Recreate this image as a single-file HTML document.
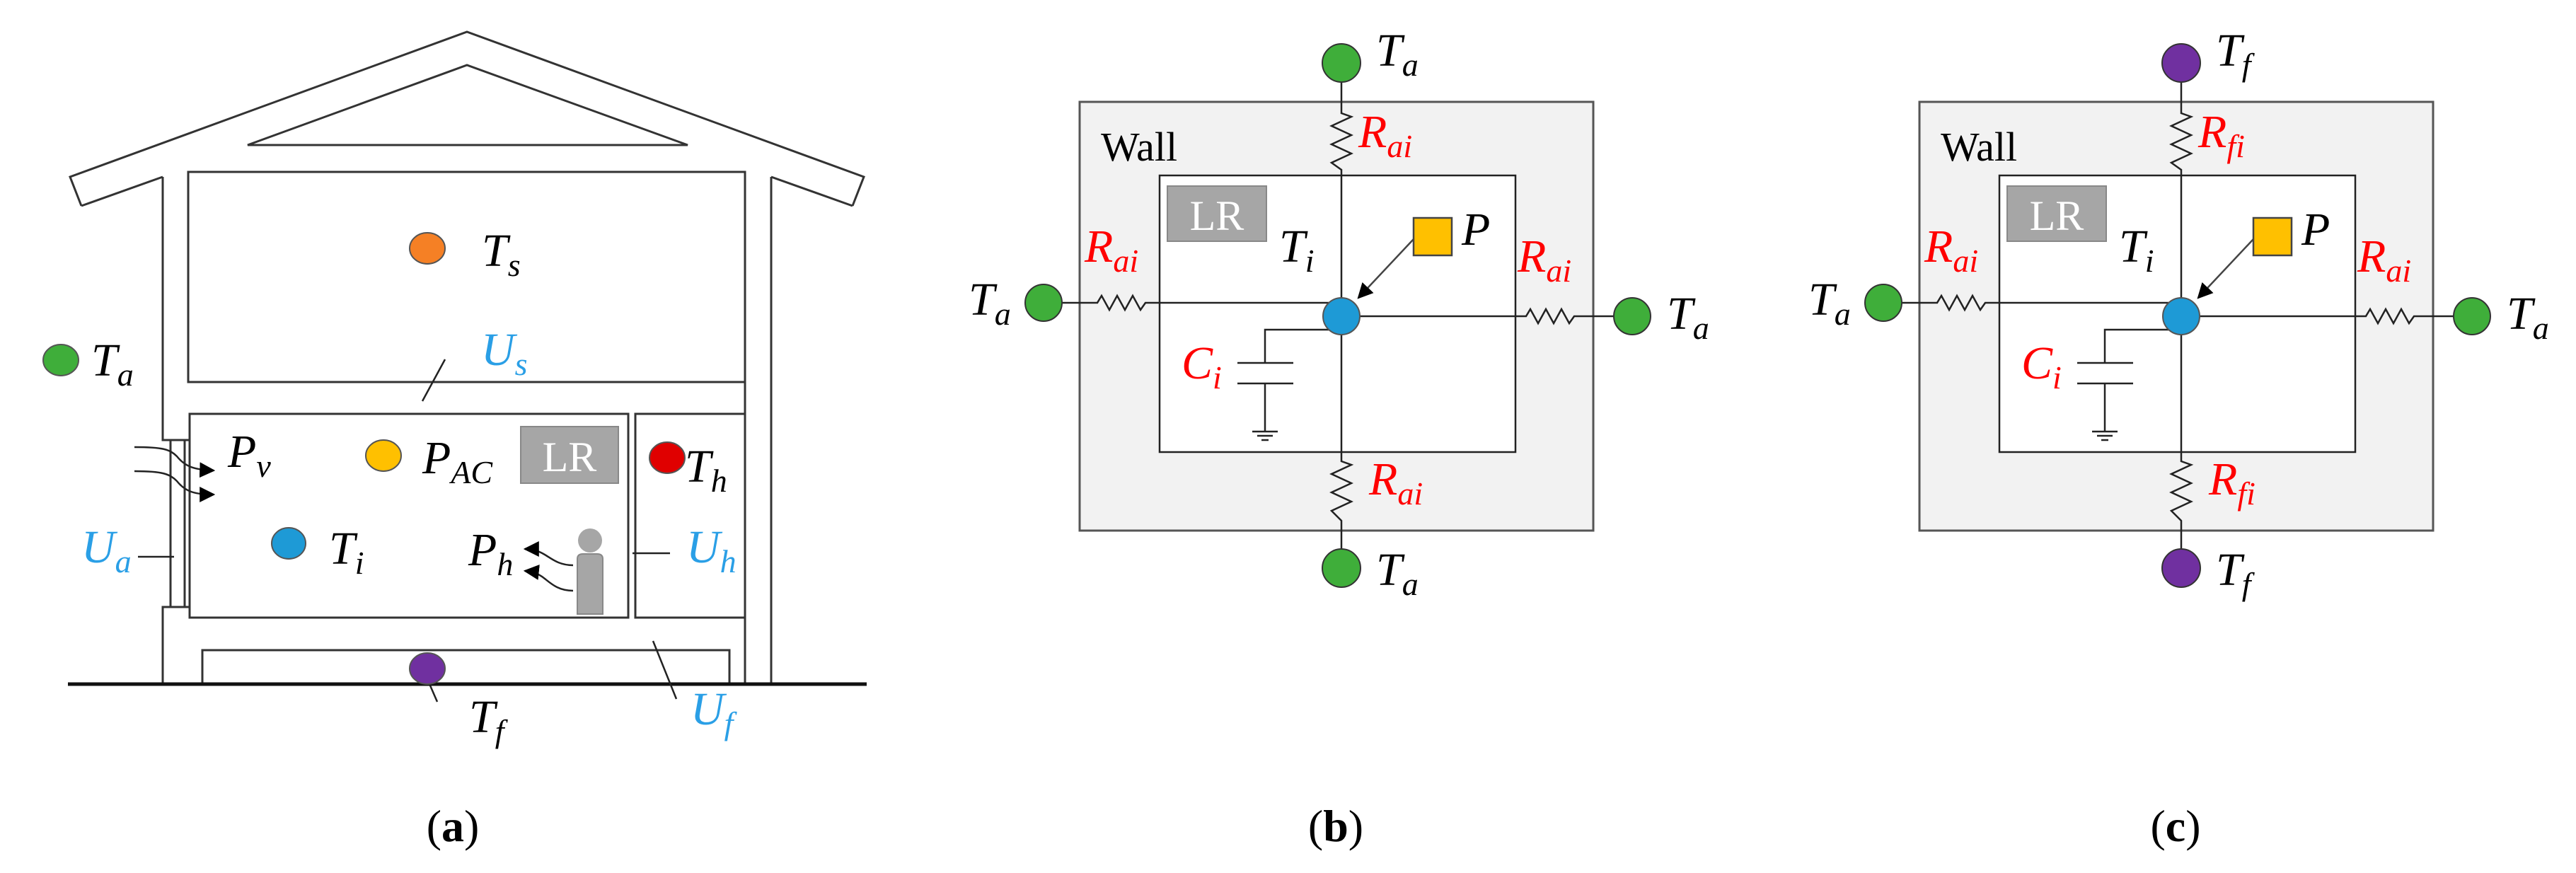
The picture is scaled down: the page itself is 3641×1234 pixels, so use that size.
<!DOCTYPE html>
<html><head><meta charset="utf-8"><style>
html,body{margin:0;padding:0;background:#fff;}
svg{display:block;}
text{font-family:"Liberation Serif",serif;}
.m{font-style:italic;font-size:66px;}
.r{fill:#ff0000;}
.b{fill:#2a9fe6;}
</style></head><body>
<svg width="3641" height="1234" viewBox="0 0 3641 1234" xmlns="http://www.w3.org/2000/svg">
<defs>
<marker id="ah" markerWidth="10" markerHeight="10" refX="9" refY="5" orient="auto" markerUnits="userSpaceOnUse" viewBox="0 0 10 10"><path d="M0,0 L10,5 L0,10 z" fill="#000"/></marker>
<marker id="ah2" viewBox="0 0 10 10" refX="9" refY="5" markerWidth="22" markerHeight="22" orient="auto" markerUnits="userSpaceOnUse"><path d="M0,0 L10,5 L0,10 z" fill="#000"/></marker>
</defs>
<!-- ============ Panel (a) ============ -->
<g fill="none" stroke="#333" stroke-width="3">
<polyline points="115,291 99,250 660,45 1221,250 1205,291"/>
<line x1="115" y1="291" x2="230" y2="250"/>
<line x1="1090" y1="250" x2="1205" y2="291"/>
<polygon points="350,205 660,92 972,205"/>
<rect x="266" y="243" width="787" height="297"/>
<rect x="268" y="585" width="620" height="288"/>
<rect x="898" y="585" width="155" height="288"/>
<rect x="286" y="919" width="745" height="48"/>
<polyline points="230,250 230,622 268,622"/>
<polyline points="230,967 230,858 268,858"/>
<line x1="241" y1="622" x2="241" y2="858"/>
<line x1="261" y1="622" x2="261" y2="858"/>
<line x1="1090" y1="250" x2="1090" y2="967"/>
<line x1="1053" y1="540" x2="1053" y2="967"/>
</g>
<line x1="96" y1="967" x2="1225" y2="967" stroke="#111" stroke-width="5"/>
<!-- connectors a -->
<g stroke="#222" stroke-width="2.5" fill="none">
<line x1="597" y1="567" x2="629" y2="508"/>
<line x1="195" y1="787" x2="246" y2="787"/>
<line x1="894" y1="782" x2="947" y2="782"/>
<line x1="923" y1="906" x2="956" y2="988"/>
<line x1="608" y1="969" x2="618" y2="992"/>
<path d="M190,632 C230,632 240,635 250,645 C262,660 275,664 302,665" marker-end="url(#ah2)"/>
<path d="M190,666 C230,666 240,670 250,680 C262,695 275,699 302,699" marker-end="url(#ah2)"/>
<path d="M810,799 C790,799 780,790 770,784 C760,778 752,776 742,776" marker-end="url(#ah2)"/>
<path d="M810,835 C790,835 780,826 770,818 C760,810 752,808 742,807" marker-end="url(#ah2)"/>
</g>
<!-- nodes a -->
<g stroke="#555" stroke-width="2">
<ellipse cx="604" cy="351" rx="25" ry="22" fill="#f58025"/>
<ellipse cx="86" cy="509" rx="25" ry="22" fill="#3fae3a"/>
<ellipse cx="542" cy="644" rx="25" ry="22" fill="#ffc000"/>
<ellipse cx="408" cy="768" rx="24" ry="22" fill="#1e9ad6"/>
<ellipse cx="943" cy="647" rx="25" ry="22" fill="#e00000"/>
<ellipse cx="604" cy="945" rx="25" ry="22" fill="#7030a0"/>
</g>
<rect x="736" y="603" width="138" height="80" fill="#a6a6a6" stroke="#888" stroke-width="2"/>
<text x="805" y="666" font-size="60" fill="#fff" text-anchor="middle">LR</text>
<circle cx="834" cy="764" r="17" fill="#a6a6a6"/>
<path d="M816,868 L816,790 Q816,783 824,783 L844,783 Q852,783 852,790 L852,868 Z" fill="#a6a6a6" stroke="#888" stroke-width="2"/>
<!-- labels a -->
<text class="m" x="681" y="376">T<tspan font-size="46" dy="14">s</tspan></text>
<text class="m b" x="680" y="516">U<tspan font-size="46" dy="14">s</tspan></text>
<text class="m" x="129" y="531">T<tspan font-size="46" dy="14">a</tspan></text>
<text class="m" x="322" y="660">P<tspan font-size="46" dy="14">v</tspan></text>
<text class="m" x="597" y="669">P<tspan font-size="46" dy="14">AC</tspan></text>
<text class="m" x="968" y="681">T<tspan font-size="46" dy="14">h</tspan></text>
<text class="m b" x="115" y="795">U<tspan font-size="46" dy="14">a</tspan></text>
<text class="m" x="465" y="797">T<tspan font-size="46" dy="14">i</tspan></text>
<text class="m" x="662" y="799">P<tspan font-size="46" dy="14">h</tspan></text>
<text class="m b" x="970" y="795">U<tspan font-size="46" dy="14">h</tspan></text>
<text class="m b" x="976" y="1024">U<tspan font-size="46" dy="14">f</tspan></text>
<text class="m" x="663" y="1035">T<tspan font-size="46" dy="14">f</tspan></text>
<text x="640" y="1189" font-size="64" text-anchor="middle">(<tspan font-weight="bold">a</tspan>)</text>

<!-- ============ Panel (b) template ============ -->
<g id="pb">
<rect x="1526" y="144" width="726" height="606" fill="#f2f2f2" stroke="#555" stroke-width="3"/>
<rect x="1639" y="248" width="503" height="391" fill="#fff" stroke="#222" stroke-width="2.5"/>
<g stroke="#222" stroke-width="2.5" fill="none">
<polyline points="1896,89 1896,160 1910,165 1882,178 1910,191 1882,204 1910,217 1882,230 1896,240 1896,447"/>
<polyline points="1896,447 1896,652 1910,657 1882,670 1910,683 1882,696 1910,709 1882,722 1896,736 1896,803"/>
<polyline points="1475,428 1551,428 1557,418 1568,438 1579,418 1590,438 1601,418 1612,438 1619,428 1896,428"/>
<polyline points="1896,447 2157,447 2163,437 2174,457 2185,437 2196,457 2207,437 2218,457 2225,447 2307,447"/>
<polyline points="1880,466 1788,466 1788,513"/>
<line x1="1749" y1="513" x2="1828" y2="513"/>
<line x1="1749" y1="542" x2="1828" y2="542"/>
<line x1="1788" y1="542" x2="1788" y2="610"/>
<line x1="1770" y1="610" x2="1806" y2="610"/>
<line x1="1777" y1="616" x2="1799" y2="616"/>
<line x1="1783" y1="622" x2="1793" y2="622"/>
</g>
<line x1="1998" y1="338" x2="1920" y2="421" stroke="#444" stroke-width="2.5" marker-end="url(#ah2)"/>
<circle cx="1896" cy="447" r="26" fill="#1e9ad6" stroke="#555" stroke-width="2"/>
<circle cx="1475" cy="428" r="26" fill="#3fae3a" stroke="#333" stroke-width="2"/>
<circle cx="2307" cy="447" r="26" fill="#3fae3a" stroke="#333" stroke-width="2"/>
<rect x="1998" y="308" width="54" height="53" fill="#ffc000" stroke="#444" stroke-width="2.5"/>
<rect x="1650" y="263" width="140" height="78" fill="#a6a6a6" stroke="#888" stroke-width="2"/>
<text x="1720" y="325" font-size="60" fill="#fff" text-anchor="middle">LR</text>
<text x="1556" y="227" font-size="58">Wall</text>
<text class="m" x="1808" y="370">T<tspan font-size="46" dy="14">i</tspan></text>
<text class="m" x="2066" y="346">P</text>
<text class="m r" x="1533" y="370">R<tspan font-size="46" dy="14">ai</tspan></text>
<text class="m" x="1369" y="445">T<tspan font-size="46" dy="14">a</tspan></text>
<text class="m r" x="2145" y="384">R<tspan font-size="46" dy="14">ai</tspan></text>
<text class="m" x="2356" y="465">T<tspan font-size="46" dy="14">a</tspan></text>
<text class="m r" x="1670" y="535">C<tspan font-size="46" dy="14">i</tspan></text>
</g>
<!-- b specific -->
<circle cx="1896" cy="89" r="27" fill="#3fae3a" stroke="#333" stroke-width="2"/>
<circle cx="1896" cy="803" r="27" fill="#3fae3a" stroke="#333" stroke-width="2"/>
<text class="m" x="1945" y="93">T<tspan font-size="46" dy="14">a</tspan></text>
<text class="m r" x="1920" y="208">R<tspan font-size="46" dy="14">ai</tspan></text>
<text class="m r" x="1935" y="699">R<tspan font-size="46" dy="14">ai</tspan></text>
<text class="m" x="1945" y="827">T<tspan font-size="46" dy="14">a</tspan></text>
<text x="1888" y="1189" font-size="64" text-anchor="middle">(<tspan font-weight="bold">b</tspan>)</text>

<!-- ============ Panel (c) ============ -->
<use href="#pb" transform="translate(1187,0)"/>
<circle cx="3083" cy="89" r="27" fill="#7030a0" stroke="#333" stroke-width="2"/>
<circle cx="3083" cy="803" r="27" fill="#7030a0" stroke="#333" stroke-width="2"/>
<text class="m" x="3132" y="93">T<tspan font-size="46" dy="14">f</tspan></text>
<text class="m r" x="3107" y="208">R<tspan font-size="46" dy="14">fi</tspan></text>
<text class="m r" x="3122" y="699">R<tspan font-size="46" dy="14">fi</tspan></text>
<text class="m" x="3132" y="827">T<tspan font-size="46" dy="14">f</tspan></text>
<text x="3075" y="1189" font-size="64" text-anchor="middle">(<tspan font-weight="bold">c</tspan>)</text>
</svg>
</body></html>
